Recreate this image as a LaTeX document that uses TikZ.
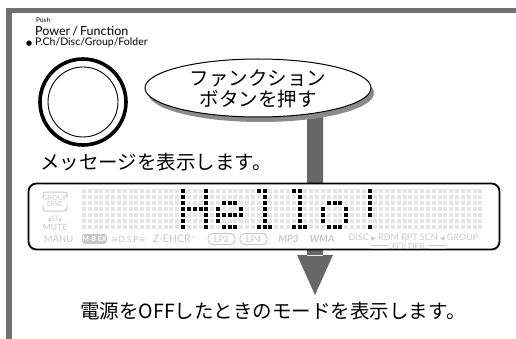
\documentclass[tikz,border=0pt]{standalone}
\usepackage{fontspec}
\newfontfamily\jp{Noto Sans CJK JP}
\newfontfamily\lab{Lato}
\newfontfamily\sym{DejaVu Sans}
\usetikzlibrary{shapes.geometric}
\definecolor{framegray}{HTML}{707070}
\definecolor{arrowgray}{HTML}{676767}
\definecolor{dotoff}{HTML}{E4E4E4}
\definecolor{lg}{HTML}{C8C8C8}
\definecolor{shadowgray}{HTML}{8A8A8A}
\tikzset{
  jptext/.style={font=\jp\fontsize{19.5}{21}\selectfont, inner sep=0pt},
  dlabel/.style={font=\lab\fontsize{9.5}{10}\selectfont, text=lg, inner sep=0pt, anchor=base},
  offdot/.style={fill=dotoff},
  ondot/.style={fill=black},
}
\newcommand{\mydot}[3]{\fill[#3] ({83.9+5.83*(#1)-2},{191+6*(#2)-2}) rectangle ++(4,4);}
\begin{document}
\begin{tikzpicture}[x=1pt,y=-1pt]
\useasboundingbox (0,0) rectangle (516,339);
\fill[white] (0,0) rectangle (516,339);
% frame
\fill[framegray] (6,8) rectangle (516,13);
\fill[framegray] (6,8) rectangle (12,339);
% top labels
\node[anchor=base west, inner sep=0pt, font=\lab\fontsize{6.5}{7}\selectfont] (push) at (36,23) {Push};
\node[anchor=base west, inner sep=0pt, font=\lab\fontsize{12.5}{13}\selectfont] (pf) at (35,35.5) {Power\,/\,Function};
\node[anchor=base west, inner sep=0pt, font=\sym\fontsize{7}{8}\selectfont] (bul) at (26,46) {●};
\node[anchor=base west, inner sep=0pt, font=\lab\fontsize{10.5}{11}\selectfont] (pch) at (35,46) {P.Ch/Disc/Group/Folder};
% knob
\node[draw, circle, line width=3.6pt, minimum size=86, inner sep=0pt] (knob) at (83,102) {};
\node[draw, circle, line width=0.9pt, minimum size=70, inner sep=0pt] (knobin) at (83,102) {};
% arrow (drawn behind display)
\coordinate (atop) at (315,110);
\coordinate (atip) at (315,295);
\fill[arrowgray] (307,110) rectangle (323,256) (297,255) -- (333,255) -- (atip) -- cycle;
% message text
\node[jptext, anchor=base west] (msg) at (40,169) {メッセージを表示します。};
% display
\node[draw, line width=1.8pt, fill=white, rounded corners=8pt, minimum width=471, minimum height=66, inner sep=0pt] (disp) at (264,216.5) {};
% dot matrix
\foreach \c in {0,...,68}{\foreach \r in {0,...,6}{\mydot{\c}{\r}{offdot}}}
% H
\foreach \r in {0,...,6}{\mydot{17}{\r}{ondot}\mydot{21}{\r}{ondot}}
\foreach \c in {18,19,20}{\mydot{\c}{3}{ondot}}
% e
\foreach \c in {24,25,26}{\mydot{\c}{2}{ondot}\mydot{\c}{6}{ondot}}
\mydot{23}{3}{ondot}\mydot{27}{3}{ondot}
\foreach \c in {23,...,27}{\mydot{\c}{4}{ondot}}
\mydot{23}{5}{ondot}
% l l
\foreach \b in {29,35}{
  \mydot{\b+1}{0}{ondot}\mydot{\b+2}{0}{ondot}
  \foreach \r in {1,...,5}{\mydot{\b+2}{\r}{ondot}}
  \mydot{\b+1}{6}{ondot}\mydot{\b+2}{6}{ondot}\mydot{\b+3}{6}{ondot}
}
% o
\foreach \c in {42,43,44}{\mydot{\c}{2}{ondot}\mydot{\c}{6}{ondot}}
\foreach \r in {3,4,5}{\mydot{41}{\r}{ondot}\mydot{45}{\r}{ondot}}
% !
\foreach \r in {0,...,4}{\mydot{49}{\r}{ondot}}
\mydot{49}{6}{ondot}
% left column labels
\draw[lg, line width=1pt, rounded corners=2.5pt] (43,197) |- (67,192) -- (67,197);
\draw[lg, line width=1pt, rounded corners=2.5pt] (43,205) |- (67,211) -- (67,205);
\node[dlabel, font=\lab\fontsize{7}{8}\selectfont] (grp) at (55,200) {GROUP};
\node[dlabel, font=\lab\fontsize{7}{8}\selectfont] (dsc) at (55,206.5) {DISC};
\node[dlabel, font=\lab\fontsize{7.5}{8}\selectfont] (st) at (55,221) {{\sym\fontsize{4.5}{5}\selectfont ▮}ST{\sym\fontsize{4.5}{5}\selectfont ▮}};
\node[dlabel, font=\lab\fontsize{8.5}{9}\selectfont] (mute) at (55,230.5) {MUTE};
% bottom label row
\node[dlabel] (manu) at (58.5,242) {MANU};
\node[fill=lg, rounded corners=3pt, minimum width=25, minimum height=10, inner sep=0pt, text=white, font=\lab\bfseries\fontsize{7}{8}\selectfont] (mbex) at (94.5,239) {M$\cdot$B EX};
\node[dlabel] (dsp) at (128.5,242) {\sym\fontsize{8.5}{9}\selectfont ≡\lab D.S.P\sym ≡};
\node[dlabel, font=\lab\fontsize{10.5}{11}\selectfont] (zeh) at (175,242) {Z-EHCR$^{+}$};
\node[draw=lg, line width=0.9pt, rounded corners=4.5pt, text=lg, inner sep=1pt, minimum width=27, minimum height=11, font=\lab\fontsize{9}{10}\selectfont] (lp2) at (221.5,239) {LP2};
\node[draw=lg, line width=0.9pt, rounded corners=4.5pt, text=lg, inner sep=1pt, minimum width=27, minimum height=11, font=\lab\fontsize{9}{10}\selectfont] (lp4) at (253.5,239) {LP4};
\node[dlabel, font=\lab\bfseries\itshape\fontsize{10}{11}\selectfont] (mp3) at (288.5,242.5) {MP3};
\node[dlabel, font=\lab\bfseries\itshape\fontsize{10}{11}\selectfont] (wma) at (322,242.5) {WMA};
\node[dlabel, font=\lab\fontsize{9}{10}\selectfont] (modes) at (413.5,240.5) {DISC {\sym\fontsize{6}{7}\selectfont ▶} RDM RPT SCN {\sym\fontsize{6}{7}\selectfont ◀} GROUP};
\node[dlabel, font=\lab\fontsize{8.5}{9}\selectfont] (fold) at (408.5,249.5) {FOLDER};
\draw[lg, line width=0.8pt] (371,245) -- (388,245) (371,248) -- (388,248);
\draw[lg, line width=0.8pt] (429,245) -- (446,245) (429,248) -- (446,248);
% button ellipse with shadow
\fill[shadowgray] (261,93) ellipse [x radius=113, y radius=29];
\node[draw, ellipse, fill=white, line width=1pt, minimum width=226, minimum height=58, inner sep=0pt] (btn) at (258,88) {};
\node[jptext, align=center] (btntxt) at (258,89) {ファンクション\\ボタンを押す};
% bottom text
\node[jptext, anchor=base] (res) at (273,318) {電源をOFFしたときのモードを表示します。};
\end{tikzpicture}
\end{document}
